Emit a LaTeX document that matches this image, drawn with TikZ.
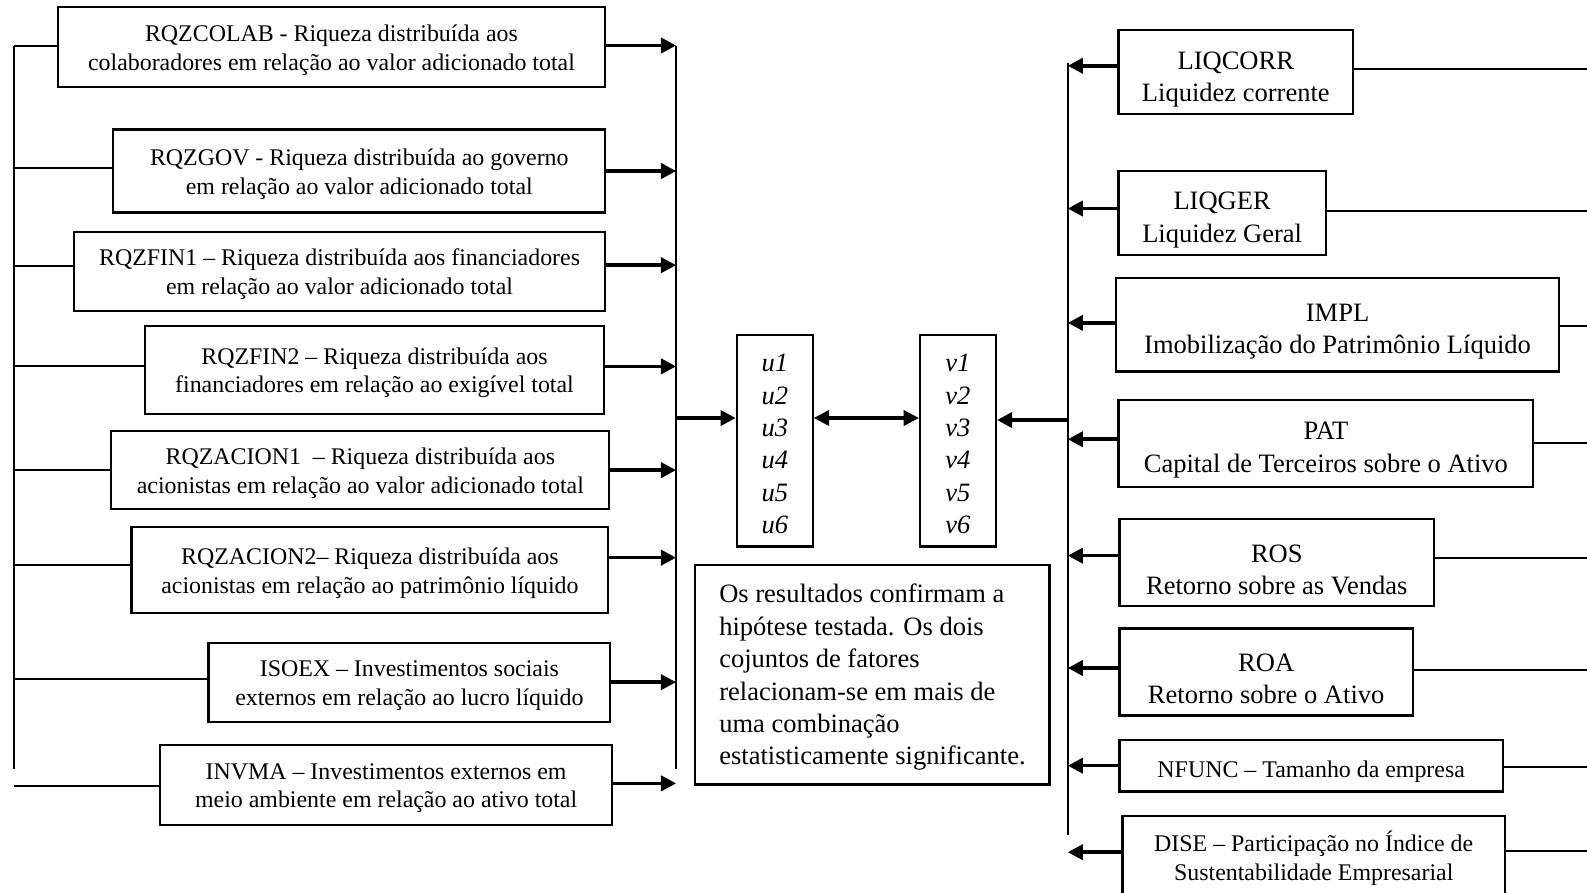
\documentclass[tikz,border=0pt]{standalone}
\usepackage{fontspec}
\setmainfont{Liberation Serif}
\usetikzlibrary{arrows.meta}
\newcommand{\upa}{\rule{0pt}{22pt}}
\newcommand{\upb}{\rule{0pt}{31pt}}
\newcommand{\upc}{\rule{0pt}{24pt}}
\newcommand{\upd}{\rule{0pt}{28pt}}
\begin{document}
\begin{tikzpicture}[x=1pt,y=-1pt,
 box/.style={draw, line width=2.2pt, inner sep=0pt, align=center},
 small/.style={font=\fontsize{23.6}{28.5}\selectfont},
 big/.style={font=\fontsize{26.2}{32}\selectfont},
 conn/.style={line width=2pt},
 bus/.style={line width=2.5pt},
 arr/.style={line width=3.5pt, -{Triangle[length=15pt,width=15pt]}},
 darr/.style={line width=3pt, {Triangle[length=15pt,width=15pt]}-{Triangle[length=15pt,width=15pt]}}
]
\fill[white] (0,0) rectangle (1568,882);
\useasboundingbox (0,0) rectangle (1568,882);

% left boxes
\node[box,small,minimum width=541pt,minimum height=79pt] (colab) at (327.5,46.5) {\upa RQZCOLAB - Riqueza distribuída aos\\colaboradores em relação ao valor adicionado total};
\node[box,small,minimum width=486pt,minimum height=82pt] (gov) at (355,169) {\upa RQZGOV - Riqueza distribuída ao governo\\em relação ao valor adicionado total};
\node[box,small,minimum width=525pt,minimum height=78pt] (fin1) at (335.5,268) {\upa RQZFIN1 -- Riqueza distribuída aos financiadores\\em relação ao valor adicionado total};
\node[box,small,minimum width=454pt,minimum height=87pt] (fin2) at (370,365.5) {\upa RQZFIN2 -- Riqueza distribuída aos\\financiadores em relação ao exigível total};
\node[box,small,minimum width=492pt,minimum height=77pt] (acion1) at (356,464.5) {\upa RQZACION1 \ -- Riqueza distribuída aos\\acionistas em relação ao valor adicionado total};
\node[box,small,minimum width=471pt,minimum height=85pt] (acion2) at (365.5,563.5) {\upa RQZACION2-- Riqueza distribuída aos\\acionistas em relação ao patrimônio líquido};
\node[box,small,minimum width=397pt,minimum height=78pt] (isoex) at (404.5,674) {\upa ISOEX -- Investimentos sociais\\externos em relação ao lucro líquido};
\node[box,small,minimum width=447pt,minimum height=79pt] (invma) at (381.5,775.5) {\upa INVMA -- Investimentos externos em\\meio ambiente em relação ao ativo total};

% centre
\node[box,font=\fontsize{26.2}{32}\selectfont\itshape,minimum width=75pt,minimum height=209pt] (u) at (765.5,435.5) {\upc u1\\u2\\u3\\u4\\u5\\u6};
\node[box,font=\fontsize{26.2}{32}\selectfont\itshape,minimum width=75pt,minimum height=209pt] (v) at (946.5,435.5) {\upc v1\\v2\\v3\\v4\\v5\\v6};
\node[box,big,align=left,minimum width=350pt,minimum height=217pt] (res) at (862,666.5) {\upc Os resultados confirmam a\\hipótese testada. Os dois\\cojuntos de fatores\\relacionam-se em mais de\\uma combinação\\estatisticamente significante.};

% right boxes
\node[box,big,minimum width=232pt,minimum height=83pt] (liqcorr) at (1221,71.5) {\upb LIQCORR\\Liquidez corrente};
\node[box,big,minimum width=205pt,minimum height=83pt] (liqger) at (1207.5,210.5) {\upb LIQGER\\Liquidez Geral};
\node[box,big,minimum width=437pt,minimum height=92pt] (impl) at (1321.5,321) {\upb IMPL\\Imobilização do Patrimônio Líquido};
\node[box,big,minimum width=410pt,minimum height=86pt] (pat) at (1310,438) {\upb PAT\\Capital de Terceiros sobre o Ativo};
\node[box,big,minimum width=311pt,minimum height=86pt] (ros) at (1261.5,556) {\upb ROS\\Retorno sobre as Vendas};
\node[box,big,minimum width=290pt,minimum height=86pt] (roa) at (1251,664) {\upb ROA\\Retorno sobre o Ativo};
\node[box,small,minimum width=379pt,minimum height=51pt] (nfunc) at (1295.5,756.5) {\upd NFUNC -- Tamanho da empresa};
\node[box,small,minimum width=378pt,minimum height=84pt] (dise) at (1298,848) {DISE -- Participação no Índice de\\Sustentabilidade Empresarial};

% bus coordinates
\coordinate (lbusT) at (14,45);
\coordinate (lbusB) at (14,760);
\coordinate (lcolT) at (668,45);
\coordinate (lcolB) at (668,760);
\coordinate (lmid) at (668,413);
\coordinate (rbusT) at (1055,62);
\coordinate (rbusB) at (1055,825);
\coordinate (rmid) at (1055,415);
\coordinate (redge) at (1580,0);

\draw[bus] (lbusT) -- (lbusB);
\draw[bus] (lcolT) -- (lcolB);
\draw[bus] (rbusT) -- (rbusB);

% left connectors: name / arrow shift / line shift
\foreach \n/\a/\l in {colab/1.5/1.5, gov/0/3, fin1/6/5, fin2/3.5/3.5, acion1/0/0, acion2/12.5/5.5, isoex/0/3, invma/1.5/-1.5}{
  \draw[conn] ([yshift=\l pt]\n.west) -- ([yshift=\l pt]\n.west -| lbusT);
  \draw[arr] ([yshift=\a pt]\n.east) -- ([yshift=\a pt]\n.east -| lcolT);
}

% right connectors
\foreach \n/\a/\l in {liqcorr/6.5/3.5, liqger/4.5/2.5, impl/2/-1, pat/4/0, ros/7/5, roa/4/2, nfunc/0/-1.5, dise/6/7}{
  \draw[arr] ([yshift=\a pt]\n.west) -- ([yshift=\a pt]\n.west -| rbusT);
  \draw[conn] ([yshift=\l pt]\n.east) -- ([yshift=\l pt]\n.east -| redge);
}

% centre connectors
\draw[arr] (lmid) -- (lmid -| u.west);
\draw[darr] (u.east |- lmid) -- (v.west |- lmid);
\draw[arr,line width=4pt] (rmid) -- (rmid -| v.east);
\end{tikzpicture}
\end{document}
